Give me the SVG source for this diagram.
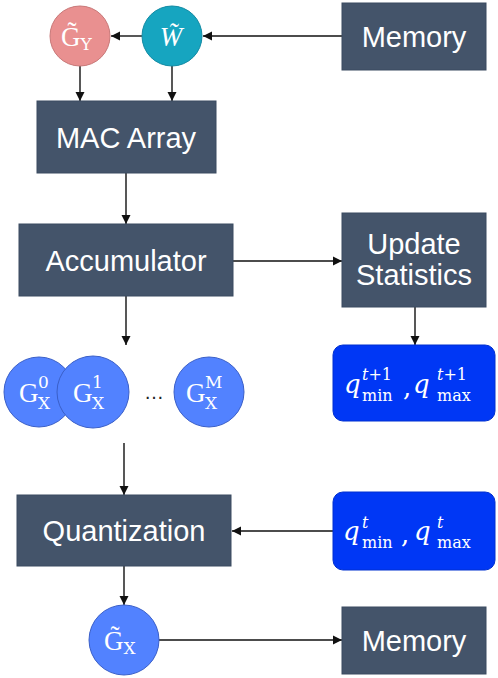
<svg xmlns="http://www.w3.org/2000/svg" width="498" height="678" viewBox="0 0 498 678">
<defs>
<marker id="ah" markerWidth="10" markerHeight="10" refX="9" refY="5" orient="auto" markerUnits="userSpaceOnUse">
<path d="M0,0.5 L9,5 L0,9.5 Z" fill="#111"/>
</marker>
<style>
.box{fill:#44546A;stroke:#3a4a60;stroke-width:1}
.bt{font-family:"Liberation Sans",Arial,sans-serif;font-size:29px;fill:#fff;text-anchor:middle}
.cb{fill:#5282FF;stroke:#3a5fc8;stroke-width:1}
.qb{fill:#0037F5;stroke:#0030d0;stroke-width:1}
.g{font-family:"Liberation Serif","DejaVu Serif",serif;fill:#fff;font-size:27px}
.m{font-family:"DejaVu Serif","Liberation Serif",serif;fill:#fff}
.mi{font-style:italic}
.up{font-style:normal}
.q{font-size:26px}
.sm{font-size:17px}
.ss{font-size:16px}
.ln{stroke:#111;stroke-width:1.4;fill:none;marker-end:url(#ah)}
</style>
</defs>
<g id="connectors">
<line class="ln" x1="342" y1="36" x2="203" y2="36"/>
<line class="ln" x1="142" y1="36" x2="111" y2="36"/>
<line class="ln" x1="80" y1="66" x2="80" y2="101"/>
<line class="ln" x1="172" y1="66" x2="172" y2="101"/>
<line class="ln" x1="126" y1="173" x2="126" y2="224"/>
<line class="ln" x1="233" y1="261" x2="342" y2="261"/>
<line class="ln" x1="415" y1="307" x2="415" y2="345"/>
<line class="ln" x1="126" y1="296" x2="126" y2="345"/>
<line class="ln" x1="124" y1="443" x2="124" y2="495"/>
<line class="ln" x1="334" y1="531" x2="232" y2="531"/>
<line class="ln" x1="124" y1="566" x2="124" y2="605"/>
<line class="ln" x1="159" y1="640" x2="342" y2="640"/>
</g>
<g id="memory-top">
<rect class="box" x="342" y="3" width="144" height="67"/>
<text class="bt" x="414" y="47">Memory</text>
</g>
<g id="gy">
<circle cx="80" cy="36" r="30" fill="#E99090" stroke="#c87878" stroke-width="1"/>
<text class="g" x="61" y="46">G̃<tspan class="m sm" dy="4">Y</tspan></text>
</g>
<g id="w">
<circle cx="172" cy="36" r="30" fill="#16A5C0" stroke="#128aa3" stroke-width="1"/>
<text class="g mi" x="171" y="46" font-size="29" text-anchor="middle">W̃</text>
</g>
<g id="mac">
<rect class="box" x="37" y="101" width="179" height="72"/>
<text class="bt" x="126" y="148">MAC Array</text>
</g>
<g id="accumulator">
<rect class="box" x="19" y="224" width="214" height="72"/>
<text class="bt" x="126" y="271">Accumulator</text>
</g>
<g id="update">
<rect class="box" x="342" y="213" width="144" height="94"/>
<text class="bt" x="414" y="254">Update</text>
<text class="bt" x="414" y="285">Statistics</text>
</g>
<g id="qt1">
<rect class="qb" x="333" y="345" width="162" height="76" rx="10"/>
<text class="m mi q" x="344" y="393">q</text>
<text class="m mi ss" x="362" y="380">t<tspan class="up">+1</tspan></text>
<text class="m ss" x="362" y="401">min</text>
<text class="m q" x="403" y="396">,</text>
<text class="m mi q" x="413" y="393">q</text>
<text class="m mi ss" x="437" y="380">t<tspan class="up">+1</tspan></text>
<text class="m ss" x="437" y="401">max</text>
</g>
<g id="gx0">
<circle class="cb" cx="39" cy="392" r="35"/>
<text class="g" x="19" y="402">G</text>
<text class="m sm" x="38" y="388">0</text>
<text class="m sm" x="38" y="409">X</text>
</g>
<g id="gx1">
<circle class="cb" cx="93" cy="392" r="36"/>
<text class="g" x="73" y="402">G</text>
<text class="m sm" x="92" y="388">1</text>
<text class="m sm" x="92" y="409">X</text>
</g>
<g id="dots">
<text x="154" y="399" font-family="Liberation Sans,sans-serif" font-size="20" fill="#222" text-anchor="middle">…</text>
</g>
<g id="gxm">
<circle class="cb" cx="209" cy="392" r="35"/>
<text class="g" x="186" y="402">G</text>
<text class="m sm" x="205" y="388">M</text>
<text class="m sm" x="205" y="409">X</text>
</g>
<g id="quantization">
<rect class="box" x="17" y="495" width="214" height="71"/>
<text class="bt" x="124" y="541">Quantization</text>
</g>
<g id="qt">
<rect class="qb" x="333" y="492" width="162" height="78" rx="10"/>
<text class="m mi q" x="343" y="540">q</text>
<text class="m mi ss" x="362" y="528">t</text>
<text class="m ss" x="362" y="548">min</text>
<text class="m q" x="401" y="543">,</text>
<text class="m mi q" x="414" y="540">q</text>
<text class="m mi ss" x="437" y="528">t</text>
<text class="m ss" x="437" y="548">max</text>
</g>
<g id="gx-tilde">
<circle class="cb" cx="124" cy="640" r="35"/>
<text class="g" x="104" y="650">G̃<tspan class="m sm" dy="4">X</tspan></text>
</g>
<g id="memory-bottom">
<rect class="box" x="342" y="607" width="144" height="67"/>
<text class="bt" x="414" y="651">Memory</text>
</g>
</svg>
